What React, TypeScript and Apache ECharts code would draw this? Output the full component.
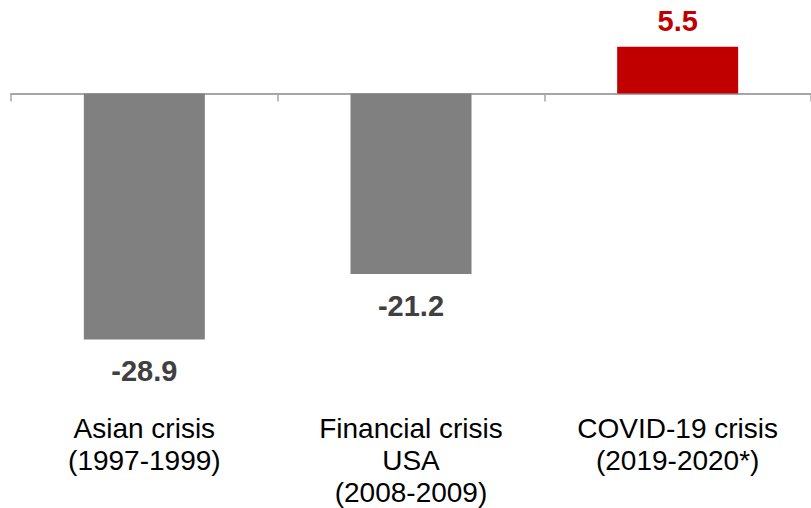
import React, { useEffect, useRef } from "react";
import * as echarts from "echarts";

const categories = [
  "Asian crisis\n(1997-1999)",
  "Financial crisis\nUSA\n(2008-2009)",
  "COVID-19 crisis\n(2019-2020*)",
];
const values = [-28.9, -21.2, 5.5];

const GRAY = "#808080";
const RED = "#c00000";
const FONT = "'Liberation Sans', Arial, Helvetica, sans-serif";

export default function App() {
  const ref = useRef<HTMLDivElement>(null);

  useEffect(() => {
    if (!ref.current) return;
    const chart = echarts.init(ref.current, null, { renderer: "svg" });

    const seriesData = values.map((v) => {
      const pos = v >= 0;
      return {
        value: v,
        itemStyle: { color: pos ? RED : GRAY },
        label: {
          show: true,
          position: pos ? "top" : "bottom",
          distance: pos ? 11 : 17,
          color: pos ? RED : "#404040",
          fontSize: 29,
          fontWeight: "bold",
          fontFamily: FONT,
          formatter: (p: any) => p.value.toFixed(1),
        },
      };
    });

    chart.setOption({
      animation: false,
      backgroundColor: "#ffffff",
      grid: { left: 11, top: 8.5, width: 803, height: 395.6 },
      xAxis: [
        {
          type: "category",
          data: categories,
          position: "bottom",
          axisLine: { show: true, onZero: true, lineStyle: { color: "#a6a6a6", width: 2 } },
          axisTick: { show: true, length: 8, lineStyle: { color: "#a6a6a6", width: 1.5 } },
          axisLabel: { show: false },
          splitLine: { show: false },
        },
        {
          type: "category",
          data: categories,
          position: "bottom",
          axisLine: { show: false, onZero: false },
          axisTick: { show: false },
          axisLabel: {
            show: true,
            interval: 0,
            margin: 12,
            color: "#000000",
            fontSize: 28,
            lineHeight: 32,
            fontFamily: FONT,
            align: "center",
            verticalAlign: "top",
          },
          splitLine: { show: false },
        },
      ],
      yAxis: {
        type: "value",
        min: -36,
        max: 10,
        show: false,
        splitLine: { show: false },
      },
      series: [
        {
          type: "bar",
          xAxisIndex: 0,
          barWidth: 121,
          data: seriesData,
        },
      ],
    });

    return () => chart.dispose();
  }, []);

  return (
    <div
      ref={ref}
      style={{ position: "absolute", left: 0, top: 0, width: 811, height: 508 }}
    />
  );
}
